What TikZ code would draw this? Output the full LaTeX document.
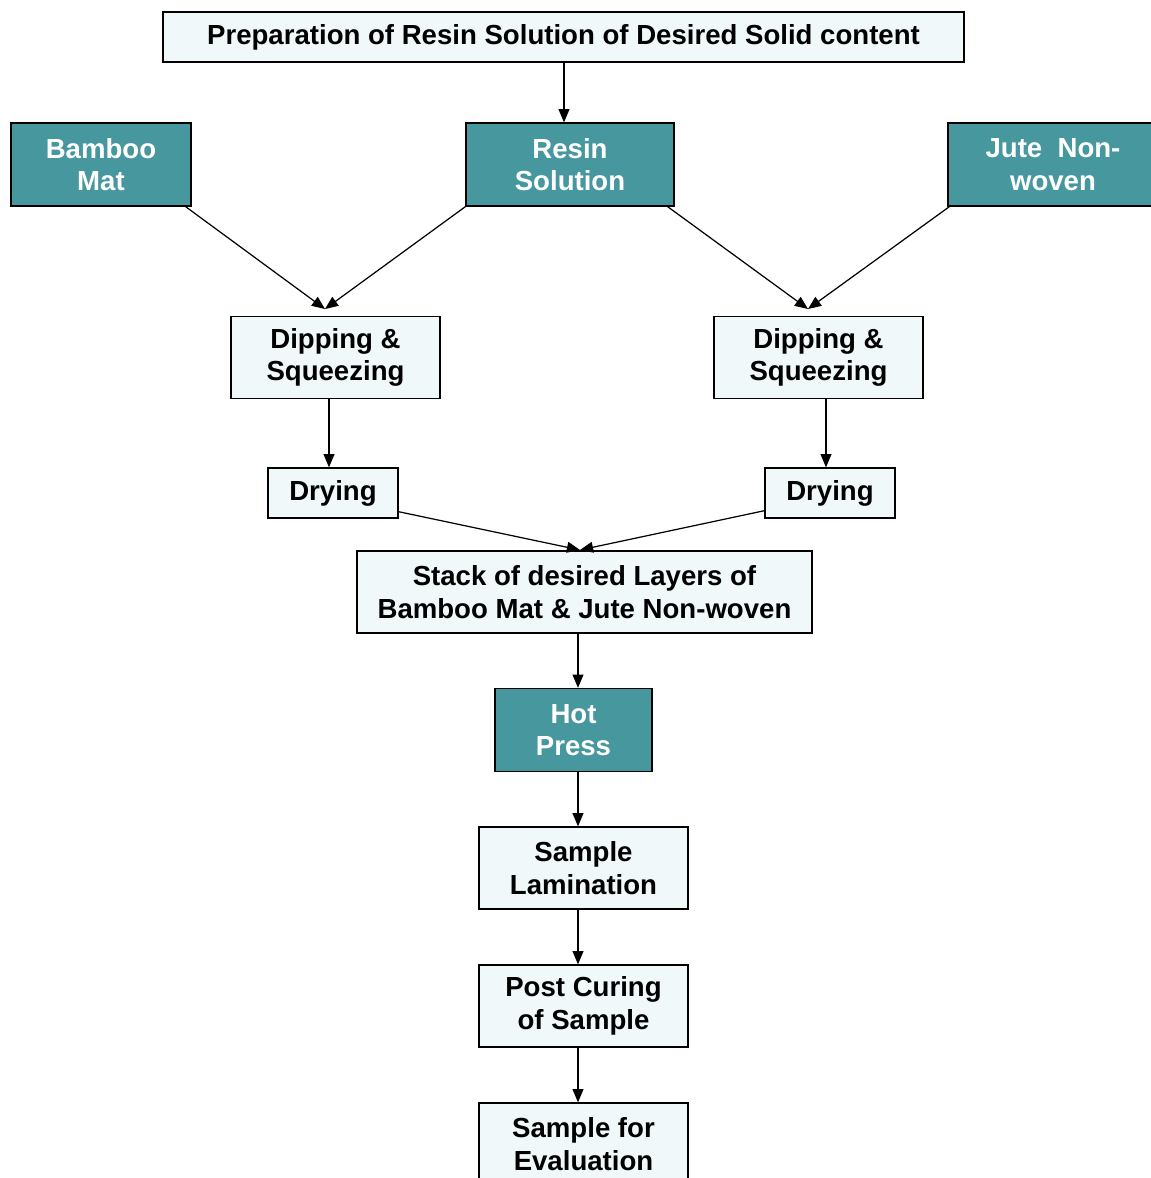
\documentclass[tikz,border=0pt]{standalone}
\usepackage{fontspec}
\setmainfont{Liberation Sans}
\usetikzlibrary{arrows}
\definecolor{resinteal}{RGB}{70,151,158}
\definecolor{stepfill}{RGB}{240,248,250}
\tikzset{
  base box/.style={draw=black, line width=0.8pt, align=center, inner sep=0pt,
    font=\fontsize{15.7}{18.6}\selectfont\bfseries},
  teal box/.style={base box, fill=resinteal, text=white, minimum height=1.66cm},
  plain box/.style={base box, fill=stepfill, text=black, minimum height=1.64cm},
  flow/.style={-triangle 45, line width=0.7pt},
}
\begin{document}
\begin{tikzpicture}[x=0.02cm, y=-0.02cm]
          \clip (0,0) rectangle (1151,1178);
          \useasboundingbox (0,0) rectangle (1151,1178);
          \node[plain box, minimum width=16.02cm, minimum height=1cm] (Prep) at (563.5,37) {Preparation of Resin Solution of Desired Solid content};
          \node[teal box, minimum width=3.6cm] (Bamboo) at (101,164.5) {Bamboo\\Mat};
          \node[teal box, minimum width=4.16cm] (Resin) at (570,164.5) {Resin\\Solution};
          \node[teal box, minimum width=4.2cm] (Jute) at (1053,164.5) {Jute\ \ Non-\\woven};
          \node[plain box, minimum width=4.18cm] (DipL) at (335.5,357.5) {Dipping \&\\Squeezing};
          \node[plain box, minimum width=4.18cm] (DipR) at (818.5,357.5) {Dipping \&\\Squeezing};
          \node[plain box, minimum width=2.6cm, minimum height=1cm] (DryL) at (333,493) {Drying};
          \node[plain box, minimum width=2.6cm, minimum height=1cm] (DryR) at (830,493) {Drying};
          \node[plain box, minimum width=9.1cm] (Stack) at (584.5,592) {Stack of desired Layers of\\Bamboo Mat \& Jute Non-woven};
          \node[teal box, minimum width=3.14cm] (Hot) at (573.5,730) {Hot\\Press};
          \node[plain box, minimum width=4.18cm] (Lam) at (583.5,868) {Sample\\Lamination};
          \node[plain box, minimum width=4.18cm] (Cure) at (583.5,1006) {Post Curing\\of Sample};
          \node[plain box, minimum width=4.18cm] (Eval) at (583.5,1144) {Sample for\\Evaluation};
          % meeting points of the arrows
          \coordinate (MeetL) at (325,309);
          \coordinate (MeetR) at (808,309);
          \coordinate (MeetS) at (580,550);
          \coordinate (Spine) at (578,0);
          \draw[flow] (Prep.south -| 564,0) -- (Resin.north -| 564,0);
          \draw[flow] ([xshift=-0.12cm]Bamboo.south east) -- (MeetL);
          \draw[flow] (Resin.south west) -- (MeetL);
          \draw[flow] ([xshift=-0.14cm]Resin.south east) -- (MeetR);
          \draw[flow] ([xshift=0.04cm]Jute.south west) -- (MeetR);
          \draw[flow] (DipL.south -| 329,0) -- (DryL.north -| 329,0);
          \draw[flow] (DipR.south -| 826,0) -- (DryR.north -| 826,0);
          \draw[flow] ([yshift=0.14cm]DryL.south east) -- (MeetS);
          \draw[flow] ([yshift=0.16cm]DryR.south west) -- (MeetS);
          \draw[flow] (Stack.south -| Spine) -- (Hot.north -| Spine);
          \draw[flow] (Hot.south -| Spine) -- (Lam.north -| Spine);
          \draw[flow] (Lam.south -| Spine) -- (Cure.north -| Spine);
          \draw[flow] (Cure.south -| Spine) -- (Eval.north -| Spine);
        \end{tikzpicture}
\end{document}
